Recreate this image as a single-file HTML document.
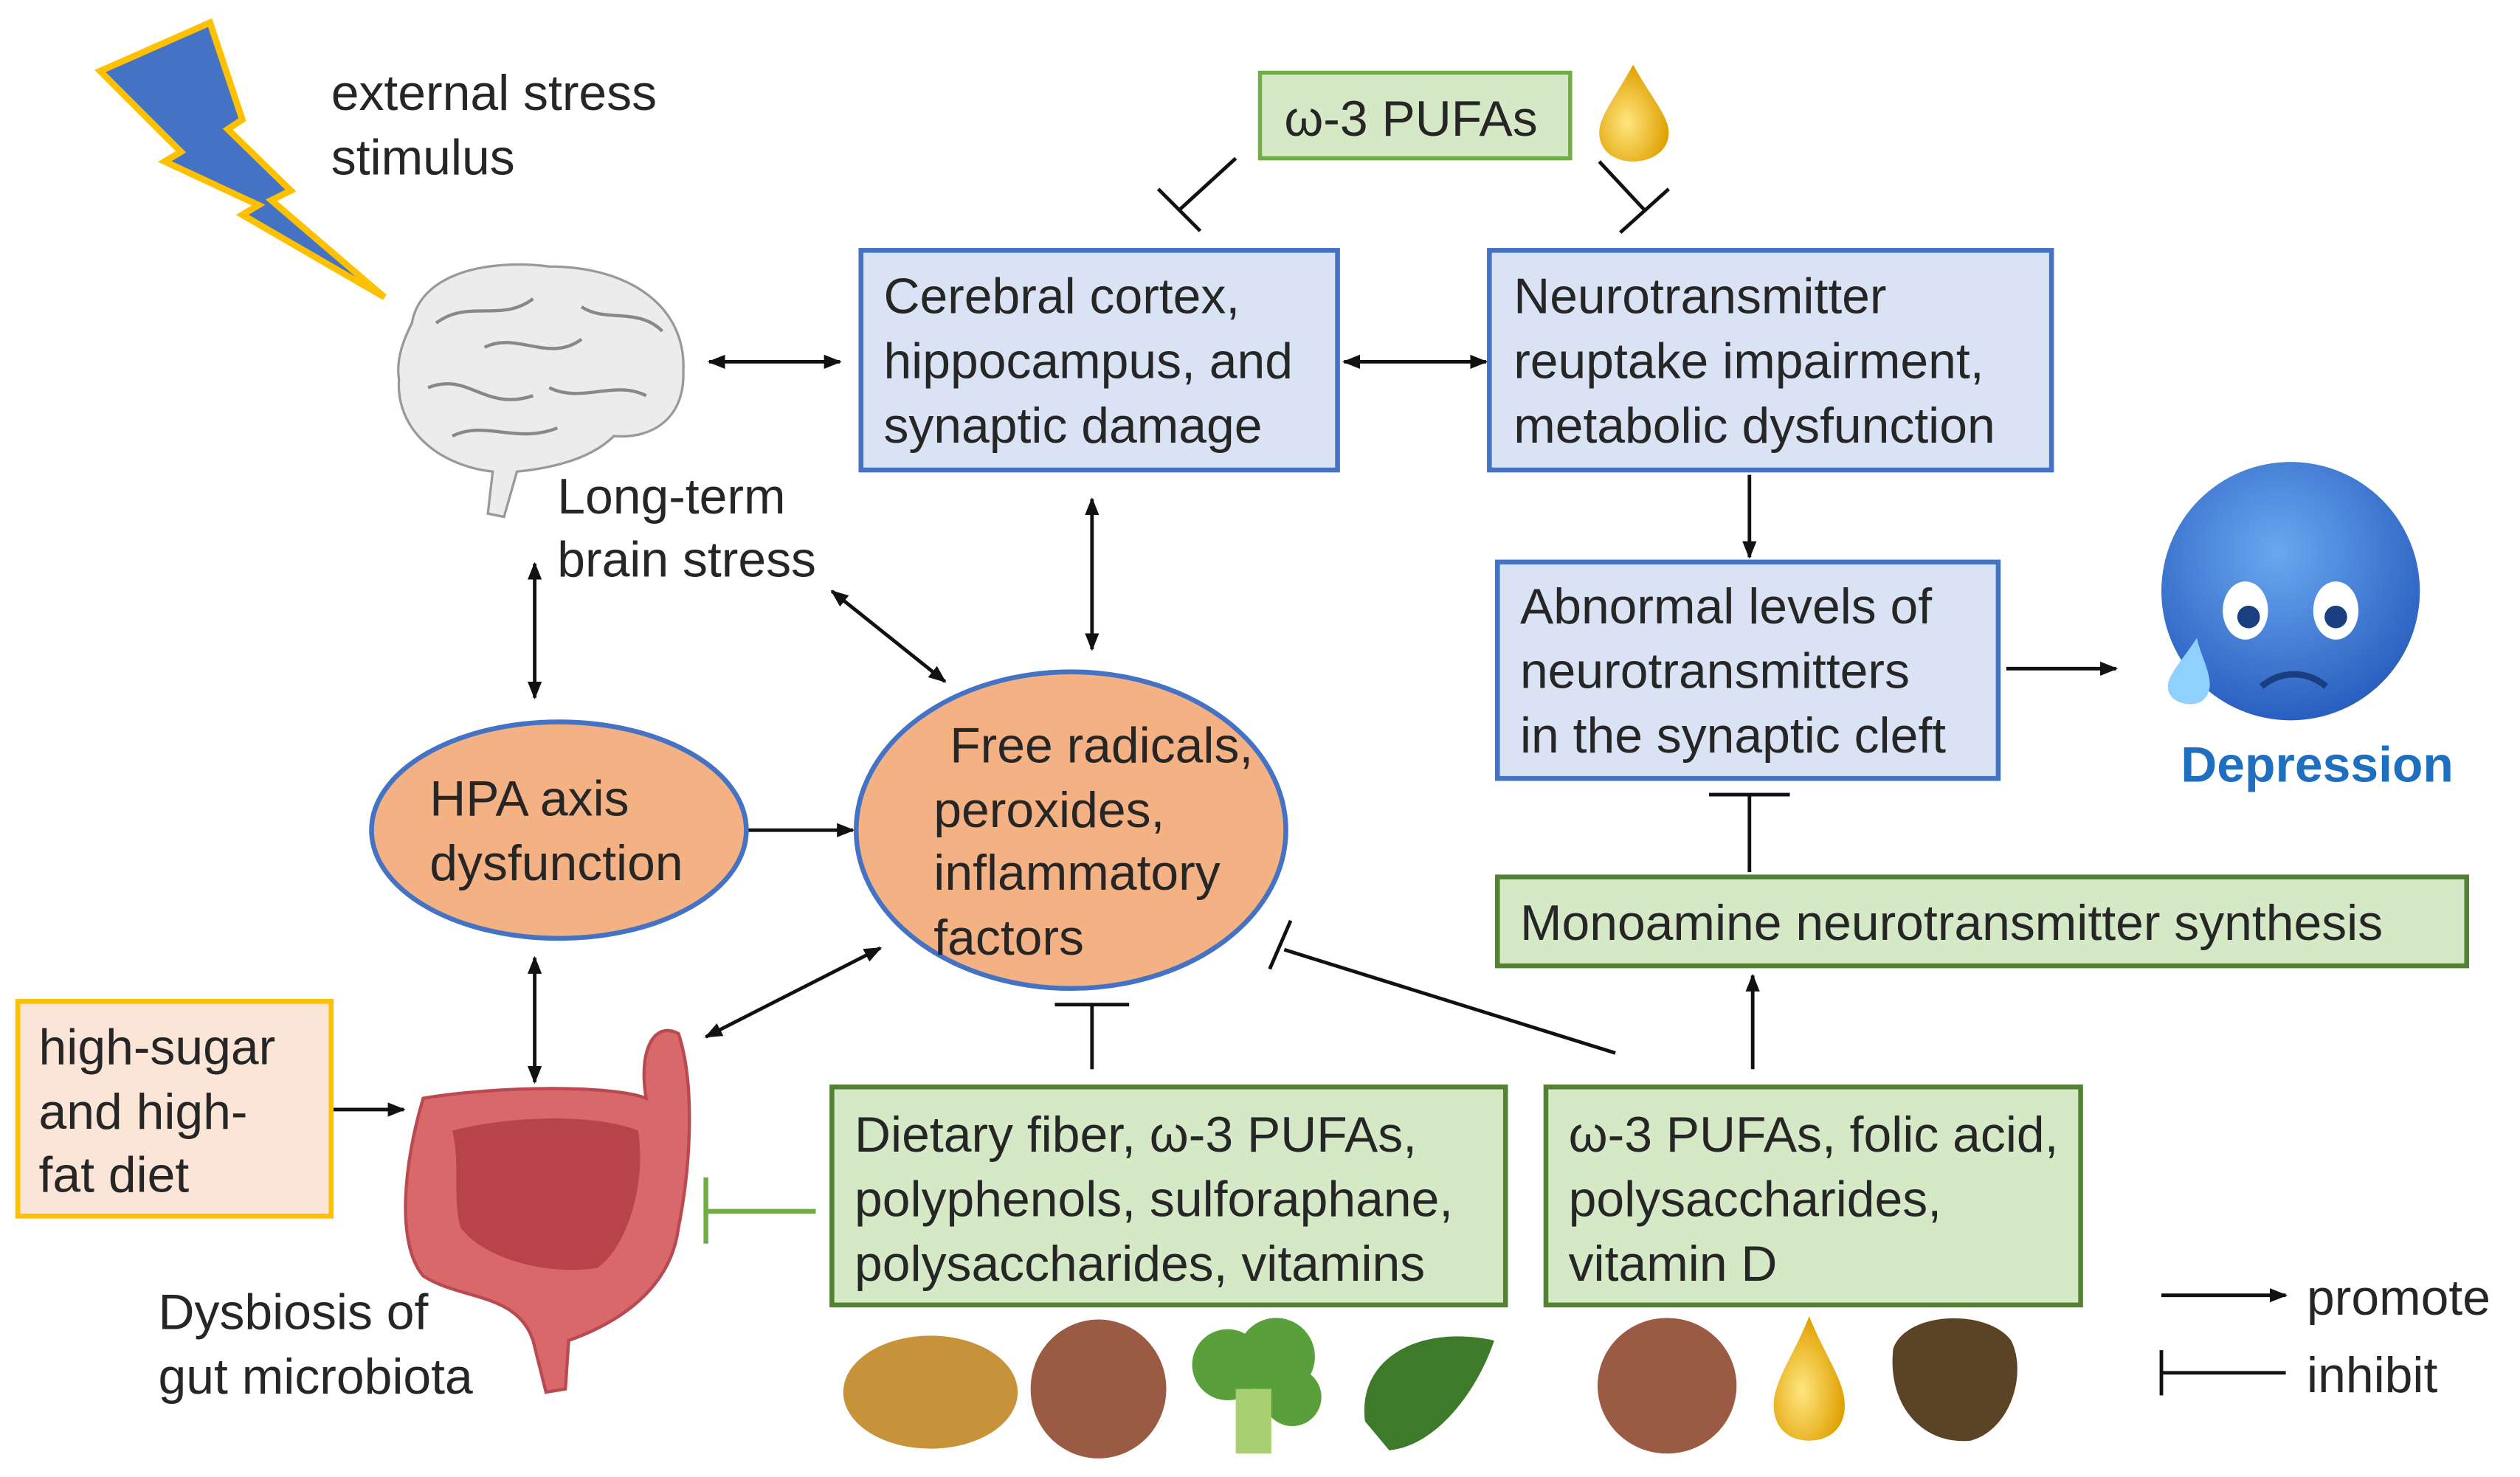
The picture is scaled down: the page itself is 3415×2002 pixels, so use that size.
<!DOCTYPE html>
<html><head><meta charset="utf-8"><style>
html,body{margin:0;padding:0;background:#fff}
svg{display:block}
text{font-family:"Liberation Sans",sans-serif;font-size:31px;fill:#262626}
</style></head><body>
<svg width="3415" height="2002" viewBox="0 0 1560 914.5" xmlns="http://www.w3.org/2000/svg">
<defs>
<marker id="a" viewBox="0 0 10 10" refX="9" refY="5" markerWidth="5" markerHeight="5" orient="auto-start-reverse"><path d="M0,1 L10,5 L0,9 z" fill="#111"/></marker>
<radialGradient id="face" cx="45%" cy="35%" r="65%"><stop offset="0" stop-color="#6aa8f0"/><stop offset="1" stop-color="#2a5fc0"/></radialGradient>
<radialGradient id="drop" cx="40%" cy="60%" r="60%"><stop offset="0" stop-color="#ffe680"/><stop offset="1" stop-color="#e0a000"/></radialGradient>
</defs>
<polygon points="62,44 130,14 150,74 141,80 180,118 168,124 238,184 150,133 160,127 102,100 112,94" fill="#4472c4" stroke="#ffc000" stroke-width="4"/>
<text x="205" y="68">external stress</text>
<text x="205" y="108">stimulus</text>
<g>
<path d="M255,200 C260,170 300,160 340,165 C390,165 425,190 423,230 C424,258 405,272 380,270 C365,285 340,290 320,292 L312,320 L302,318 L305,292 C270,288 245,265 247,235 C245,222 250,210 255,200 z" fill="#ececec" stroke="#999" stroke-width="1.5"/>
<path d="M270,200 C290,185 310,200 330,185 M300,215 C320,205 340,225 360,210 M265,240 C290,230 300,255 330,245 M340,240 C360,250 380,235 400,245 M280,270 C300,260 320,275 345,265 M360,190 C375,200 395,190 410,205" stroke="#888" stroke-width="2" fill="none"/>
</g>
<text x="345" y="318">Long-term</text>
<text x="345" y="357">brain stress</text>
<rect x="780" y="45" width="192" height="53" fill="#d6e9c6" stroke="#70ad47" stroke-width="2.5"/>
<text x="795" y="84">ω-3 PUFAs</text>
<path d="M1011,40 C1000,60 990,72 990,82 C990,94 1000,100 1011,100 C1022,100 1033,94 1033,82 C1033,72 1022,60 1011,40 z" fill="url(#drop)"/>
<g stroke="#111" stroke-width="2.2">
<line x1="765" y1="98" x2="730" y2="130"/><line x1="717" y1="117" x2="743" y2="143"/>
<line x1="990" y1="100" x2="1018" y2="130"/><line x1="1003" y1="144" x2="1033" y2="117"/>
</g>
<rect x="533" y="155" width="295" height="136" fill="#dae3f3" stroke="#4472c4" stroke-width="3"/>
<text x="547" y="194">Cerebral cortex,</text><text x="547" y="234">hippocampus, and</text><text x="547" y="274">synaptic damage</text>
<rect x="922" y="155" width="348" height="136" fill="#dae3f3" stroke="#4472c4" stroke-width="3"/>
<text x="937" y="194">Neurotransmitter</text><text x="937" y="234">reuptake impairment,</text><text x="937" y="274">metabolic dysfunction</text>
<rect x="927" y="348" width="310" height="134" fill="#dae3f3" stroke="#4472c4" stroke-width="3"/>
<text x="941" y="386">Abnormal levels of</text><text x="941" y="426">neurotransmitters</text><text x="941" y="466">in the synaptic cleft</text>
<g stroke="#111" stroke-width="2.2" fill="none">
<line x1="439" y1="224" x2="520" y2="224" marker-start="url(#a)" marker-end="url(#a)"/>
<line x1="832" y1="224" x2="920" y2="224" marker-start="url(#a)" marker-end="url(#a)"/>
<line x1="676" y1="309" x2="676" y2="402" marker-start="url(#a)" marker-end="url(#a)"/>
<line x1="515" y1="366" x2="585" y2="422" marker-start="url(#a)" marker-end="url(#a)"/>
<line x1="331" y1="349" x2="331" y2="432" marker-start="url(#a)" marker-end="url(#a)"/>
<line x1="1083" y1="294" x2="1083" y2="345" marker-end="url(#a)"/>
<line x1="1242" y1="414" x2="1310" y2="414" marker-end="url(#a)"/>
<line x1="1083" y1="540" x2="1083" y2="492"/><line x1="1058" y1="492" x2="1108" y2="492"/>
<line x1="1085" y1="662" x2="1085" y2="604" marker-end="url(#a)"/>
<line x1="463" y1="514" x2="528" y2="514" marker-end="url(#a)"/>
<line x1="331" y1="593" x2="331" y2="670" marker-start="url(#a)" marker-end="url(#a)"/>
<line x1="437" y1="642" x2="545" y2="587" marker-start="url(#a)" marker-end="url(#a)"/>
<line x1="676" y1="662" x2="676" y2="622"/><line x1="653" y1="622" x2="699" y2="622"/>
<line x1="1000" y1="652" x2="795" y2="588"/><line x1="786" y1="600" x2="799" y2="570"/>
<line x1="205" y1="687" x2="250" y2="687" marker-end="url(#a)"/>
<line x1="1338" y1="802" x2="1415" y2="802" marker-end="url(#a)"/>
<line x1="1338" y1="850" x2="1415" y2="850"/><line x1="1338" y1="836" x2="1338" y2="864"/>
</g>
<g stroke="#70ad47" stroke-width="3"><line x1="505" y1="750" x2="437" y2="750"/><line x1="437" y1="729" x2="437" y2="770"/></g>
<circle cx="1418" cy="366" r="80" fill="url(#face)"/>
<ellipse cx="1390" cy="378" rx="14" ry="18" fill="#fff"/><ellipse cx="1446" cy="378" rx="14" ry="18" fill="#fff"/>
<circle cx="1392" cy="382" r="7" fill="#1a3f80"/><circle cx="1446" cy="382" r="7" fill="#1a3f80"/>
<path d="M1400,425 C1412,415 1428,415 1440,425" stroke="#1a3f80" stroke-width="4" fill="none"/>
<path d="M1360,395 C1350,410 1342,418 1342,425 C1342,433 1350,436 1356,436 C1364,436 1368,430 1368,424 C1368,415 1362,405 1360,395z" fill="#8fd0ff"/>
<text x="1350" y="484" style="font-weight:bold;fill:#1f6fc0;font-size:31px">Depression</text>
<rect x="927" y="543" width="600" height="55" fill="#d6e9c6" stroke="#548235" stroke-width="3"/>
<text x="941" y="582">Monoamine neurotransmitter synthesis</text>
<ellipse cx="346" cy="514" rx="116" ry="67" fill="#f4b183" stroke="#4472c4" stroke-width="3"/>
<text x="266" y="505">HPA axis</text><text x="266" y="545">dysfunction</text>
<ellipse cx="663" cy="514" rx="133" ry="98" fill="#f4b183" stroke="#4472c4" stroke-width="3"/>
<text x="588" y="472">Free radicals,</text><text x="578" y="512">peroxides,</text><text x="578" y="551">inflammatory</text><text x="578" y="591">factors</text>
<rect x="11" y="620" width="194" height="133" fill="#fbe5d6" stroke="#ffc000" stroke-width="3"/>
<text x="24" y="659">high-sugar</text><text x="24" y="699">and high-</text><text x="24" y="738">fat diet</text>
<path d="M262,680 C250,720 245,770 262,790 C285,805 320,800 330,830 L338,862 L350,860 L352,830 C380,820 415,800 420,760 C428,720 430,670 420,640 C405,632 395,650 400,680 C380,672 310,672 262,680 z" fill="#d9686a" stroke="#b84a50" stroke-width="2"/>
<path d="M280,700 C320,690 370,690 395,700 C400,730 390,770 370,785 C340,790 300,780 285,760 C280,740 285,720 280,700z" fill="#b8434a"/>
<text x="98" y="823">Dysbiosis of</text><text x="98" y="863">gut microbiota</text>
<rect x="515" y="673" width="417" height="135" fill="#d6e9c6" stroke="#548235" stroke-width="3"/>
<text x="529" y="713">Dietary fiber, ω-3 PUFAs,</text><text x="529" y="753">polyphenols, sulforaphane,</text><text x="529" y="793">polysaccharides, vitamins</text>
<rect x="957" y="673" width="331" height="135" fill="#d6e9c6" stroke="#548235" stroke-width="3"/>
<text x="971" y="713">ω-3 PUFAs, folic acid,</text><text x="971" y="753">polysaccharides,</text><text x="971" y="793">vitamin D</text>
<ellipse cx="576" cy="862" rx="54" ry="35" fill="#c8923a"/>
<ellipse cx="680" cy="860" rx="42" ry="43" fill="#9a5a44"/>
<g fill="#5aa03a"><circle cx="760" cy="845" r="22"/><circle cx="790" cy="840" r="24"/><circle cx="800" cy="865" r="18"/><rect x="765" y="860" width="22" height="40" fill="#a8cf70"/></g>
<path d="M845,880 C840,840 880,820 925,830 C915,860 890,895 860,898 z" fill="#3d7a2a"/>
<ellipse cx="1032" cy="858" rx="43" ry="42" fill="#9a5a44"/>
<path d="M1120,815 C1110,840 1098,855 1098,870 C1098,885 1108,892 1120,892 C1132,892 1142,885 1142,870 C1142,855 1130,840 1120,815z" fill="url(#drop)"/>
<path d="M1172,835 C1180,812 1230,810 1245,830 C1255,850 1245,885 1220,892 C1190,895 1168,870 1172,835z" fill="#5b4325"/>
<text x="1428" y="814">promote</text><text x="1428" y="862">inhibit</text>
</svg>
</body></html>
